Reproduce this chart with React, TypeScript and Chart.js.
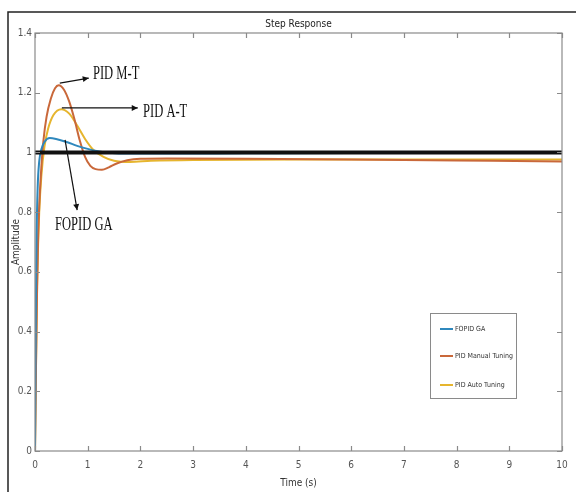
import React, { useEffect, useRef } from "react";
import { Chart, registerables } from "chart.js";

Chart.register(...registerables);

// ---- data ----
const xTickValues = [0, 1, 2, 3, 4, 5, 6, 7, 8, 9, 10];
const yTickValues = [0, 0.2, 0.4, 0.6, 0.8, 1, 1.2, 1.4];

const fopidTime = [0, 0.01, 0.02, 0.03, 0.05, 0.08, 0.12, 0.18, 0.28, 0.4, 0.6, 0.8, 1.0, 1.2, 1.4, 1.8, 2.5, 4, 6, 8, 10];
const fopidAmp = [0, 0.3, 0.55, 0.72, 0.88, 0.97, 1.01, 1.035, 1.048, 1.045, 1.035, 1.022, 1.012, 1.004, 0.999, 0.996, 0.996, 0.997, 0.998, 0.998, 0.998];

const manualTime = [0, 0.01, 0.02, 0.04, 0.06, 0.08, 0.12, 0.16, 0.22, 0.3, 0.38, 0.45, 0.55, 0.65, 0.75, 0.85, 0.95, 1.05, 1.15, 1.27, 1.4, 1.55, 1.75, 2, 2.5, 4, 6, 8, 10];
const manualAmp = [0, 0.15, 0.3, 0.55, 0.72, 0.82, 0.95, 1.04, 1.12, 1.18, 1.215, 1.225, 1.21, 1.17, 1.11, 1.04, 0.985, 0.955, 0.944, 0.942, 0.95, 0.963, 0.974, 0.979, 0.98, 0.979, 0.976, 0.973, 0.97];

const autoTime = [0, 0.01, 0.02, 0.04, 0.06, 0.08, 0.12, 0.18, 0.25, 0.35, 0.5, 0.65, 0.8, 0.95, 1.1, 1.3, 1.5, 1.8, 2.2, 3, 5, 7, 10];
const autoAmp = [0, 0.15, 0.3, 0.55, 0.7, 0.8, 0.92, 1.02, 1.08, 1.125, 1.145, 1.13, 1.09, 1.045, 1.01, 0.985, 0.972, 0.968, 0.972, 0.975, 0.976, 0.976, 0.976];

const refTime = [0, 10];
const refAmp = [1, 1];

const seriesLabels = ["FOPID GA", "PID Manual Tuning", "PID Auto Tuning"];

// annotations: label, text anchor [t, amp], arrow from [t, amp] to [t, amp]
const annotationLabels = ["PID M-T", "PID A-T", "FOPID GA"];
const annotationTextAt = [[1.1, 1.261], [2.05, 1.135], [0.38, 0.757]];
const annotationArrowFrom = [[0.47, 1.232], [0.51, 1.149], [0.57, 1.042]];
const annotationArrowTo = [[1.02, 1.249], [1.95, 1.149], [0.8, 0.807]];

const BLUE = "#2f88bd";
const ORANGE = "#c9683a";
const YELLOW = "#e6b52e";
const NARROW = "'Liberation Sans Narrow', 'DejaVu Sans Condensed', 'Liberation Sans', Arial, sans-serif";

const pts = (t: number[], v: number[]) => t.map((x, i) => ({ x, y: v[i] }));

const decorPlugin = {
  id: "decor",
  beforeDraw(chart: any) {
    const { ctx, width, height } = chart;
    ctx.save();
    ctx.fillStyle = "#ffffff";
    ctx.fillRect(0, 0, width, height);
    // outer figure frame (top and left edges visible)
    ctx.strokeStyle = "#222";
    ctx.lineWidth = 1.5;
    ctx.beginPath();
    ctx.moveTo(8, height);
    ctx.lineTo(8, 12);
    ctx.lineTo(width, 12);
    ctx.stroke();
    ctx.restore();
  },
  afterDraw(chart: any) {
    const { ctx, chartArea: a, scales } = chart;
    const xs = scales.x;
    const ys = scales.y;
    ctx.save();
    // axes box
    ctx.strokeStyle = "#8a8a8a";
    ctx.lineWidth = 1.2;
    ctx.strokeRect(a.left, a.top, a.right - a.left, a.bottom - a.top);
    // inward ticks
    const tl = 5;
    ctx.beginPath();
    xTickValues.forEach((v) => {
      const px = Math.round(xs.getPixelForValue(v)) + 0.5;
      ctx.moveTo(px, a.bottom);
      ctx.lineTo(px, a.bottom - tl);
      ctx.moveTo(px, a.top);
      ctx.lineTo(px, a.top + tl);
    });
    yTickValues.forEach((v) => {
      const py = Math.round(ys.getPixelForValue(v)) + 0.5;
      ctx.moveTo(a.left, py);
      ctx.lineTo(a.left + tl, py);
      ctx.moveTo(a.right, py);
      ctx.lineTo(a.right - tl, py);
    });
    ctx.stroke();

    // title
    ctx.fillStyle = "#222";
    ctx.font = `10px ${NARROW}`;
    ctx.textAlign = "center";
    ctx.textBaseline = "middle";
    ctx.fillText("Step Response", (a.left + a.right) / 2, 24);

    // annotations
    annotationLabels.forEach((label, i) => {
      const fx = xs.getPixelForValue(annotationArrowFrom[i][0]);
      const fy = ys.getPixelForValue(annotationArrowFrom[i][1]);
      const tx = xs.getPixelForValue(annotationArrowTo[i][0]);
      const ty = ys.getPixelForValue(annotationArrowTo[i][1]);
      ctx.strokeStyle = "#111";
      ctx.fillStyle = "#111";
      ctx.lineWidth = 1.2;
      ctx.beginPath();
      ctx.moveTo(fx, fy);
      ctx.lineTo(tx, ty);
      ctx.stroke();
      const ang = Math.atan2(ty - fy, tx - fx);
      const hl = 6;
      const hw = 3;
      ctx.beginPath();
      ctx.moveTo(tx, ty);
      ctx.lineTo(tx - hl * Math.cos(ang) + hw * Math.sin(ang), ty - hl * Math.sin(ang) - hw * Math.cos(ang));
      ctx.lineTo(tx - hl * Math.cos(ang) - hw * Math.sin(ang), ty - hl * Math.sin(ang) + hw * Math.cos(ang));
      ctx.closePath();
      ctx.fill();

      const lx = xs.getPixelForValue(annotationTextAt[i][0]);
      const ly = ys.getPixelForValue(annotationTextAt[i][1]);
      ctx.save();
      ctx.translate(lx, ly);
      ctx.scale(0.66, 1);
      ctx.font = "19px 'Liberation Serif', 'Times New Roman', serif";
      ctx.textAlign = "left";
      ctx.textBaseline = "middle";
      ctx.fillStyle = "#111";
      ctx.fillText(label, 0, 0);
      ctx.restore();
    });

    // legend box
    const bx = a.right - 132;
    const by = a.bottom - 138;
    const bw = 86;
    const bh = 85;
    ctx.fillStyle = "#fff";
    ctx.fillRect(bx, by, bw, bh);
    ctx.strokeStyle = "#8a8a8a";
    ctx.lineWidth = 1;
    ctx.strokeRect(bx + 0.5, by + 0.5, bw, bh);
    const rows = [16, 43, 72];
    chart.data.datasets.slice(0, 3).forEach((ds: any, i: number) => {
      const yy = by + rows[i];
      ctx.strokeStyle = ds.borderColor;
      ctx.lineWidth = 2;
      ctx.beginPath();
      ctx.moveTo(bx + 10, yy);
      ctx.lineTo(bx + 23, yy);
      ctx.stroke();
      ctx.fillStyle = "#333";
      ctx.font = `7px ${NARROW}`;
      ctx.textAlign = "left";
      ctx.textBaseline = "middle";
      ctx.fillText(ds.label, bx + 25, yy);
    });
    ctx.restore();
  },
};

export default function App() {
  const canvasRef = useRef<HTMLCanvasElement | null>(null);

  useEffect(() => {
    if (!canvasRef.current) return;
    const chart = new Chart(canvasRef.current, {
      type: "line",
      data: {
        datasets: [
          {
            label: seriesLabels[0],
            data: pts(fopidTime, fopidAmp),
            borderColor: BLUE,
            borderWidth: 2,
            pointRadius: 0,
            cubicInterpolationMode: "monotone",
          },
          {
            label: seriesLabels[1],
            data: pts(manualTime, manualAmp),
            borderColor: ORANGE,
            borderWidth: 2,
            pointRadius: 0,
            cubicInterpolationMode: "monotone",
          },
          {
            label: seriesLabels[2],
            data: pts(autoTime, autoAmp),
            borderColor: YELLOW,
            borderWidth: 2,
            pointRadius: 0,
            cubicInterpolationMode: "monotone",
          },
          {
            label: "Reference",
            data: pts(refTime, refAmp),
            borderColor: "#111",
            borderWidth: 4,
            pointRadius: 0,
            order: -1,
          },
        ],
      },
      options: {
        animation: false,
        responsive: false,
        parsing: false,
        layout: { padding: { top: 33, right: 14, left: 0, bottom: 0 } },
        plugins: {
          legend: { display: false },
          title: { display: false },
          tooltip: { enabled: false },
        },
        scales: {
          x: {
            type: "linear",
            min: 0,
            max: 10,
            grid: { display: false, drawTicks: false },
            border: { display: false },
            ticks: {
              stepSize: 1,
              padding: 8,
              color: "#555",
              font: { size: 10, family: NARROW },
              maxRotation: 0,
            },
            title: {
              display: true,
              text: "Time (s)",
              color: "#333",
              font: { size: 10, family: NARROW },
              padding: { top: 0, bottom: 3 },
            },
            afterFit: (s: any) => {
              s.height = 41;
            },
          },
          y: {
            type: "linear",
            min: 0,
            max: 1.4,
            grid: { display: false, drawTicks: false },
            border: { display: false },
            ticks: {
              stepSize: 0.2,
              padding: 3,
              color: "#555",
              font: { size: 10, family: NARROW },
              callback: (v: any) => String(Math.round(Number(v) * 10) / 10),
            },
            title: {
              display: true,
              text: "Amplitude",
              color: "#333",
              font: { size: 10, family: NARROW },
              padding: { top: 10, bottom: 0 },
            },
            afterFit: (s: any) => {
              s.width = 35;
            },
          },
        },
      },
      plugins: [decorPlugin],
    } as any);
    return () => chart.destroy();
  }, []);

  return (
    <div style={{ position: "fixed", left: 0, top: 0, width: 576, height: 492, background: "#fff" }}>
      <canvas ref={canvasRef} width={576} height={492} style={{ width: 576, height: 492, display: "block" }} />
    </div>
  );
}
